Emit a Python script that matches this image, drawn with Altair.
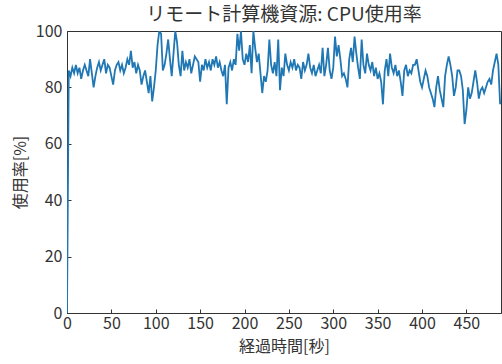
import altair as alt
import pandas as pd

# elapsed time [s] and CPU usage [%]
times = [0] + list(range(2, 490, 2))
usage = [
    0,
    86, 84, 87, 85, 88,
    85, 87, 83, 86, 88,
    86, 84, 90, 85, 80,
    84, 87, 89, 86, 88,
    90, 85, 88, 87, 84,
    81, 86, 88, 89, 86,
    88, 85, 87, 90, 88,
    93, 87, 89, 85, 88,
    86, 81, 84, 86, 82,
    78, 84, 75, 80, 86,
    95, 100, 99, 86, 88,
    92, 97, 90, 84, 92,
    100, 96, 88, 84, 93,
    86, 89, 87, 90, 85,
    88, 91, 90, 89, 82,
    88, 86, 90, 87, 89,
    86, 90, 88, 91, 87,
    89, 86, 84, 88, 74,
    87, 89, 86, 90, 88,
    99, 93, 100, 90, 88,
    92, 89, 95, 85, 100,
    94, 89, 92, 85, 78,
    84, 82, 86, 97, 88,
    85, 89, 84, 97, 79,
    87, 84, 92, 88, 86,
    89, 87, 90, 86, 88,
    87, 83, 89, 86, 88,
    92, 87, 85, 88, 84,
    86, 88, 85, 94, 84,
    88, 94, 86, 83, 87,
    98, 91, 95, 90, 84,
    85, 83, 80, 90, 94,
    89, 98, 92, 87, 83,
    97, 88, 85, 92, 88,
    86, 89, 84, 87, 83,
    85, 82, 74, 86, 90,
    84, 92, 87, 85, 88,
    84, 86, 82, 77, 86,
    88, 84, 86, 85, 88,
    88, 90, 86, 82, 80,
    83, 86, 84, 80, 78,
    76, 73, 80, 84, 79,
    76, 73, 84, 88, 91,
    88, 84, 77, 80, 86,
    86, 84, 79, 67, 72,
    80, 76, 78, 82, 86,
    82, 76, 79, 80, 78,
    80, 82, 83, 81, 86,
    89, 92, 88, 74,
]

x_ticks = [0, 50, 100, 150, 200, 250, 300, 350, 400, 450]
y_ticks = [0, 20, 40, 60, 80, 100]

df = pd.DataFrame({"t": times[: len(usage)], "v": usage[: len(times)]})

FONT = "Noto Sans CJK JP"
W, H = 434, 282
xs = alt.Scale(domain=[0, 489], nice=False, zero=False)
ys = alt.Scale(domain=[0, 100], nice=False)

base = alt.Chart(df)

line = base.mark_line(color="#1f77b4", strokeWidth=1.8, clip=True).encode(
    x=alt.X("t:Q", scale=xs, axis=alt.Axis(
        orient="bottom", values=x_ticks, ticks=False, tickSize=0, labelPadding=2,
        title="経過時間[秒]", titlePadding=7, domain=True, domainColor="#333",
        grid=False, labelFlush=False)),
    y=alt.Y("v:Q", scale=ys, axis=alt.Axis(
        orient="left", values=y_ticks, ticks=False, tickSize=0, labelPadding=5,
        title="使用率[%]", titlePadding=7, domain=True, domainColor="#333",
        grid=False, labelFlush=False)),
)

ticks_layer = base.mark_line(opacity=0).encode(
    x=alt.X("t:Q", scale=xs, axis=alt.Axis(
        orient="top", offset=-H, values=x_ticks, labels=False, domain=False,
        title=None, ticks=True, tickSize=4, tickColor="#333", grid=False)),
    y=alt.Y("v:Q", scale=ys, axis=alt.Axis(
        orient="right", offset=-W, values=y_ticks, labels=False, domain=False,
        title=None, ticks=True, tickSize=4, tickColor="#333", grid=False)),
)

chart = (
    alt.layer(line, ticks_layer)
    .resolve_axis(x="independent", y="independent")
    .properties(
        width=W,
        height=H,
        background="white",
        title=alt.TitleParams("リモート計算機資源: CPU使用率", anchor="middle",
                              fontSize=19, font=FONT, fontWeight="normal",
                              color="#333", offset=-2),
        autosize=alt.AutoSizeParams(type="none"),
        padding={"left": 67, "top": 31, "right": 1, "bottom": 51},
    )
    .configure_view(stroke="#333", strokeWidth=1)
    .configure_axis(labelFont=FONT, titleFont=FONT, labelFontSize=16,
                    titleFontSize=16, labelColor="#333", titleColor="#333",
                    titleFontWeight="normal")
)

chart.save("out.html", embed_options={"renderer": "svg", "actions": False})
